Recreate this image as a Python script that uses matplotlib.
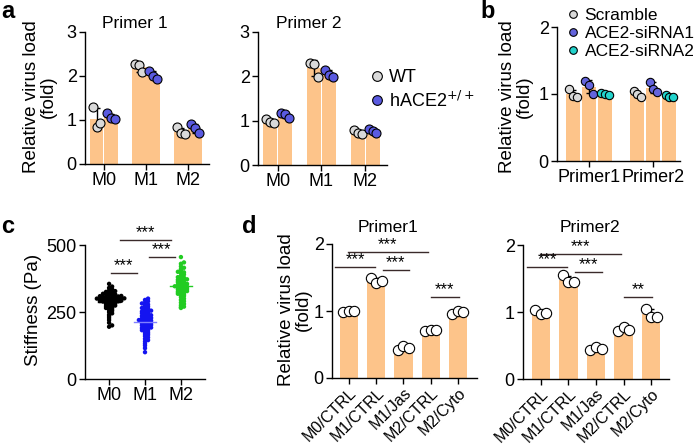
import numpy as np
import matplotlib
matplotlib.use('Agg')
import matplotlib.pyplot as plt
from matplotlib.lines import Line2D

plt.rcParams['font.family'] = ['Liberation Sans', 'DejaVu Sans']

# ---- data ----
groups_a = ['M0', 'M1', 'M2']
a1_wt = [[1.30, 0.83, 0.94], [2.28, 2.25, 2.08], [0.83, 0.70, 0.68]]
a1_hace = [[1.15, 1.05, 1.03], [2.12, 2.00, 1.93], [0.90, 0.82, 0.70]]
a2_wt = [[1.03, 0.98, 0.95], [2.30, 2.27, 1.98], [0.78, 0.72, 0.70]]
a2_hace = [[1.18, 1.15, 1.05], [2.15, 2.02, 1.98], [0.82, 0.77, 0.73]]

groups_b = ['Primer1', 'Primer2']
b_scr = [[1.07, 0.97, 0.95], [1.05, 1.00, 0.95]]
b_si1 = [[1.20, 1.13, 1.00], [1.18, 1.08, 1.03]]
b_si2 = [[1.02, 1.00, 0.98], [0.98, 0.96, 0.95]]

groups_c = ['M0', 'M1', 'M2']
c_m0 = [355, 345, 340, 335, 330, 328, 325, 322, 320, 318, 316, 315, 313, 312, 310,
        309, 308, 306, 305, 304, 303, 302, 301, 300, 300, 299, 298, 297, 296, 295,
        294, 293, 292, 291, 290, 289, 288, 287, 285, 284, 282, 280, 278, 276, 274,
        272, 270, 268, 265, 262, 258, 255, 250, 245, 240, 235, 228, 220, 210, 200, 195]
c_m1 = [300, 295, 290, 285, 282, 278, 275, 270, 268, 265, 262, 258, 255, 252, 250,
        248, 245, 242, 240, 238, 235, 233, 230, 228, 226, 224, 222, 220, 218, 216,
        214, 212, 210, 208, 206, 204, 202, 200, 198, 195, 192, 190, 188, 185, 182,
        180, 176, 172, 168, 165, 160, 155, 150, 145, 140, 132, 125, 115, 100]
c_m2 = [455, 435, 430, 420, 415, 410, 405, 400, 398, 395, 390, 385, 380, 378, 375,
        372, 370, 368, 365, 362, 360, 358, 355, 352, 350, 348, 346, 344, 342, 340,
        338, 336, 334, 332, 330, 328, 325, 322, 320, 318, 315, 312, 310, 305, 300,
        295, 290, 285, 280, 275, 270, 268, 265]

groups_d = ['M0/CTRL', 'M1/CTRL', 'M1/Jas', 'M2/CTRL', 'M2/Cyto']
d1 = [[0.98, 1.00, 1.00], [1.50, 1.42, 1.45], [0.42, 0.48, 0.45], [0.70, 0.72, 0.72], [0.95, 1.00, 0.98]]
d2 = [[1.03, 0.97, 0.98], [1.55, 1.45, 1.45], [0.43, 0.48, 0.45], [0.72, 0.77, 0.73], [1.05, 0.92, 0.93]]

# significance: (x start, x end, y, text)
c_sig = [(0.05, 0.78, 395, '***'), (1.1, 1.83, 455, '***'), (0.3, 1.72, 519, '***')]
d1_sig = [(-0.5, 0.95, 1.66, '***'), (1.25, 2.2, 1.61, '***'), (-0.05, 2.9, 1.88, '***'), (3.0, 4.05, 1.21, '***')]
d2_sig = [(-0.5, 0.95, 1.67, '***'), (1.25, 2.2, 1.60, '***'), (-0.05, 2.9, 1.87, '***'), (3.0, 4.05, 1.22, '**')]

BAR = '#FDC48A'
GREY = '#D9D9D9'
BLUE = '#5A5AE0'
CYAN = '#22D3CC'
FS = 13

W, H = 700, 444
fig = plt.figure(figsize=(7, 4.44), dpi=100)


def px_axes(l, t, r, b):
    return fig.add_axes([l / W, 1 - b / H, (r - l) / W, (b - t) / H])


def style(ax):
    for s in ['top', 'right']:
        ax.spines[s].set_visible(False)
    for s in ['left', 'bottom']:
        ax.spines[s].set_linewidth(1.0)
    ax.tick_params(labelsize=FS, length=4, width=1, pad=2)


def bars_dots(ax, x, pts, width, fc, s=42, offs=(-0.1, 0.0, 0.1)):
    pts = np.array(pts)
    m = pts.mean()
    sd = pts.std(ddof=1)
    ax.bar(x, m, width, color=BAR, edgecolor='none', zorder=1)
    ax.errorbar(x, m, yerr=sd, color='black', lw=1, capsize=2.5, capthick=1, zorder=2)
    ax.scatter(x + np.array(offs) * width / 0.33, pts, s=s, c=fc, edgecolors='black',
               linewidths=0.8, zorder=3, clip_on=False)


def sig(ax, items, dy, fs=12):
    for x1, x2, y, t in items:
        ax.plot([x1, x2], [y, y], color='#3a2a2a', lw=1, clip_on=False)
        ax.text((x1 + x2) / 2, y + dy, t, ha='center', va='bottom', fontsize=fs, clip_on=False)


def ptxt(x, y, t, **kw):
    fig.text(x / W, 1 - y / H, t, **kw)


# ---- panel a ----
for (l, t, r, b), wt, ha, title, tx in [((85, 32, 209, 164), a1_wt, a1_hace, 'Primer 1', 135),
                                        ((258, 32, 387, 165), a2_wt, a2_hace, 'Primer 2', 309)]:
    ax = px_axes(l, t, r, b)
    style(ax)
    for i in range(3):
        bars_dots(ax, i - 0.17, wt[i], 0.32, GREY, offs=(-0.09, 0.0, 0.09))
        bars_dots(ax, i + 0.17, ha[i], 0.32, BLUE, offs=(-0.09, 0.0, 0.09))
    ax.set_ylim(0, 3)
    ax.set_yticks([0, 1, 2, 3])
    ax.set_xticks(range(3))
    ax.set_xticklabels(groups_a)
    ax.set_xlim(-0.45, 2.5)
    ptxt(tx, 23, title, ha='center', va='center', fontsize=12.5)
    last_a = ax

handles = [Line2D([], [], ls='none', marker='o', ms=7, mfc=GREY, mec='black', mew=0.8),
           Line2D([], [], ls='none', marker='o', ms=7, mfc=BLUE, mec='black', mew=0.8)]
last_a.legend(handles, ['WT', 'hACE2$^{+/+}$'], loc='upper left', bbox_to_anchor=(372 / W, 1 - 69 / H),
              bbox_transform=fig.transFigure, frameon=False, fontsize=FS, handlelength=0.6,
              handletextpad=0.35, labelspacing=0.25, borderpad=0, borderaxespad=0)
ptxt(40, 97, 'Relative virus load\n(fold)', rotation=90, ha='center', va='center',
     multialignment='center', fontsize=13.5, linespacing=1.0)
ptxt(1, 12, 'a', fontsize=17, fontweight='bold', va='center')

# ---- panel b ----
ax = px_axes(557, 27, 680, 161)
style(ax)
for i in range(2):
    bars_dots(ax, i - 0.25, b_scr[i], 0.23, GREY, s=36, offs=(-0.08, 0.0, 0.08))
    bars_dots(ax, i, b_si1[i], 0.23, '#6464DC', s=36, offs=(-0.08, 0.0, 0.08))
    bars_dots(ax, i + 0.25, b_si2[i], 0.23, CYAN, s=36, offs=(-0.08, 0.0, 0.08))
ax.set_ylim(0, 2)
ax.set_yticks([0, 1, 2])
ax.set_xticks(range(2))
ax.set_xticklabels(groups_b)
ax.set_xlim(-0.5, 1.42)
handles = [Line2D([], [], ls='none', marker='o', ms=5.5, mfc=c, mec='black', mew=0.8)
           for c in [GREY, '#6464DC', CYAN]]
ax.legend(handles, ['Scramble', 'ACE2-siRNA1', 'ACE2-siRNA2'], loc='upper left',
          bbox_to_anchor=(569 / W, 1 - 8 / H), bbox_transform=fig.transFigure, frameon=False,
          fontsize=12.5, handlelength=0.45, handletextpad=0.45, labelspacing=0.15,
          borderpad=0, borderaxespad=0)
ptxt(516, 97, 'Relative virus load\n(fold)', rotation=90, ha='center', va='center',
     multialignment='center', fontsize=13.5, linespacing=1.0)
ptxt(480, 12, 'b', fontsize=17, fontweight='bold', va='center')

# ---- panel c ----
ax = px_axes(85, 245, 205, 379)
style(ax)
for i, (vals, col, mcol) in enumerate([(c_m0, 'black', 'black'), (c_m1, '#1414F0', '#8080FF'),
                                       (c_m2, '#22CC22', '#22CC22')]):
    v = np.sort(np.array(vals, dtype=float))
    xs = np.zeros_like(v)
    bins = np.round(v / 9)
    for bval in np.unique(bins):
        idx = np.where(bins == bval)[0]
        for k, j in enumerate(idx):
            step = (k + 1) // 2
            xs[j] = step * 0.085 * (1 if k % 2 else -1)
    ax.scatter(i + xs, v, s=10, c=col, edgecolors='none', zorder=2)
    ax.plot([i - 0.3, i + 0.3], [v.mean()] * 2, color=mcol, lw=1, zorder=3)
ax.set_ylim(0, 500)
ax.set_yticks([0, 250, 500])
ax.set_xticks(range(3))
ax.set_xticklabels(groups_c)
ax.set_xlim(-0.67, 2.67)
sig(ax, c_sig, 0, fs=12)
ptxt(33, 310, 'Stiffness (Pa)', rotation=90, ha='center', va='center', fontsize=13.5)
ptxt(1, 226, 'c', fontsize=17, fontweight='bold', va='center')

# ---- panel d ----
for (l, t, r, b), vals, sg, title, tx, xl in [((332, 244, 477, 378), d1, d1_sig, 'Primer1', 388, (-0.62, 4.7)),
                                              ((523, 245, 669, 379), d2, d2_sig, 'Primer2', 590, (-0.65, 4.65))]:
    ax = px_axes(l, t, r, b)
    style(ax)
    for i in range(5):
        bars_dots(ax, i, vals[i], 0.67, 'white', s=55, offs=(-0.1, 0.0, 0.1))
    ax.set_ylim(0, 2)
    ax.set_yticks([0, 1, 2])
    ax.set_xticks(range(5))
    ax.set_xticklabels(groups_d, rotation=45, ha='right', rotation_mode='anchor', fontsize=11.5)
    ax.tick_params(axis='x', pad=1)
    ax.set_xlim(*xl)
    sig(ax, sg, 0.0, fs=12)
    ptxt(tx, 227, title, ha='center', va='center', fontsize=12.5)
ptxt(295, 310, 'Relative virus load\n(fold)', rotation=90, ha='center', va='center',
     multialignment='center', fontsize=13.5, linespacing=1.0)
ptxt(242, 226, 'd', fontsize=17, fontweight='bold', va='center')

fig.savefig('out.png', dpi=100)
